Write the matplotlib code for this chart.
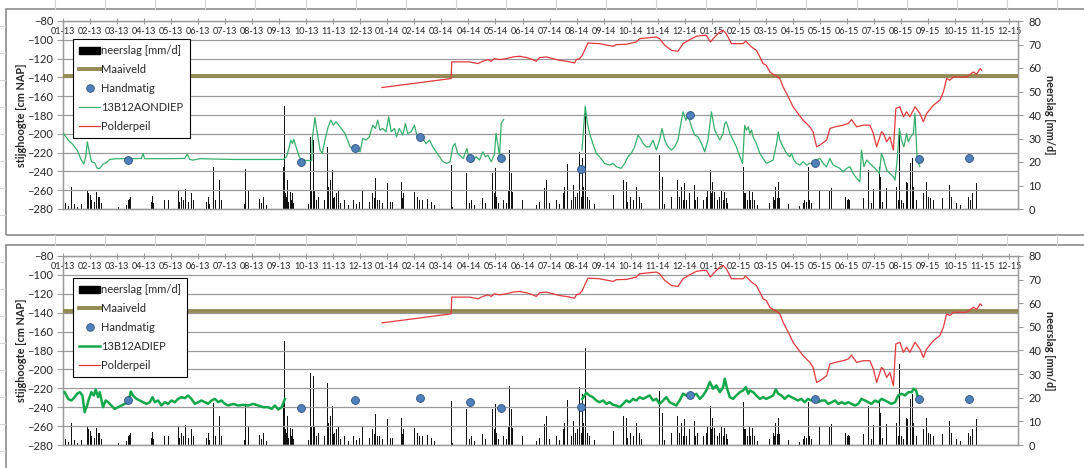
import matplotlib
matplotlib.use("Agg")
import matplotlib.pyplot as plt
from matplotlib.lines import Line2D
from matplotlib.patches import Patch, Rectangle
import numpy as np

plt.rcParams['font.family'] = ['Lato', 'DejaVu Sans']

nan = float('nan')

# x-as: maanden sinds 01-2013
month_labels = ['01-13', '02-13', '03-13', '04-13', '05-13', '06-13', '07-13', '08-13', '09-13', '10-13',
                '11-13', '12-13', '01-14', '02-14', '03-14', '04-14', '05-14', '06-14', '07-14', '08-14',
                '09-14', '10-14', '11-14', '12-14', '01-15', '02-15', '03-15', '04-15', '05-15', '06-15',
                '07-15', '08-15', '09-15', '10-15', '11-15', '12-15']
left_ticks = [-80, -100, -120, -140, -160, -180, -200, -220, -240, -260, -280]
right_ticks = [0, 10, 20, 30, 40, 50, 60, 70, 80]

# neerslag [mm/d]
rain_t = [0.09, 0.19, 0.31, 0.43, 0.52, 0.68, 0.89, 0.93, 0.96, 1.01, 1.06, 1.11, 1.17, 1.23, 1.30, 1.36,
          1.42, 1.48, 1.85, 2.04, 2.22, 2.35, 2.41, 2.47, 2.51, 2.59, 3.27, 3.31, 3.36, 3.77, 3.89, 4.26,
          4.32, 4.38, 4.47, 4.54, 4.63, 4.75, 4.84, 5.31, 5.37, 5.43, 5.58, 5.65, 5.80, 5.86, 6.73, 6.75,
          6.85, 7.28, 7.36, 7.43, 7.53, 8.15, 8.19, 8.22, 8.27, 8.30, 8.35, 8.40, 8.44, 8.49, 8.54, 8.99,
          9.07, 9.17, 9.21, 9.26, 9.30, 9.32, 9.38, 9.44, 9.69, 9.73, 9.78, 9.83, 9.88, 9.91, 9.96, 10.00,
          10.06, 10.12, 10.19, 10.25, 10.43, 10.56, 10.74, 10.86, 10.96, 11.09, 11.21, 11.33, 11.46, 11.52,
          11.56, 11.64, 11.70, 11.83, 12.01, 12.10, 12.20, 12.32, 12.51, 12.57, 12.60, 13.00, 13.06, 13.12,
          13.19, 13.31, 13.43, 13.49, 13.62, 13.74, 14.36, 14.42, 14.91, 15.03, 15.10, 15.22, 15.53, 15.63,
          15.90, 15.95, 15.99, 16.05, 16.12, 16.30, 16.39, 16.48, 16.52, 16.58, 16.64, 17.01, 17.51, 17.63,
          17.81, 17.88, 18.00, 18.25, 18.37, 18.52, 18.56, 18.68, 18.80, 18.90, 18.96, 19.03, 19.09, 19.11,
          19.17, 19.21, 19.26, 19.32, 19.40, 19.48, 19.57, 19.67, 20.37, 20.74, 20.84, 20.90, 20.99, 21.09,
          21.21, 21.31, 21.40, 22.05, 22.17, 22.26, 22.51, 22.75, 22.81, 22.88, 22.94, 23.00, 23.06, 23.19,
          23.35, 23.41, 23.49, 23.68, 23.80, 23.86, 23.95, 23.99, 24.02, 24.11, 24.20, 24.30, 24.36, 24.42,
          24.48, 24.54, 24.60, 25.19, 25.22, 25.26, 25.31, 25.38, 25.44, 25.51, 25.59, 25.68, 26.15, 26.27,
          26.33, 26.37, 26.42, 26.46, 26.52, 26.83, 27.26, 27.38, 27.44, 27.51, 27.57, 27.63, 27.69, 27.98,
          28.37, 28.43, 28.56, 28.95, 29.01, 29.05, 29.11, 29.63, 29.79, 29.91, 29.98, 30.04, 30.20, 30.25,
          30.31, 30.47, 30.78, 30.84, 30.90, 30.94, 31.02, 31.09, 31.15, 31.21, 31.25, 31.36, 31.43, 31.48,
          31.58, 31.83, 31.93, 32.01, 32.10, 32.20, 32.54, 32.81, 32.88, 33.06, 33.19, 33.49, 33.58, 33.64,
          33.74, 33.80]
rain_mm = [2.7, 1.3, 9.5, 2.1, 1.0, 2.1, 8.1, 5.2, 6.7, 5.9, 3.8, 5.2, 3.1, 7.4, 5.2, 5.2,
           2.4, 4.5, 0.7, 0.7, 17.3, 1.7, 3.8, 4.4, 5.0, 3.1, 3.1, 5.5, 2.4, 3.8, 3.8, 7.8,
           3.1, 5.2, 3.8, 8.4, 3.1, 6.9, 3.8, 3.1, 5.2, 2.1, 17.7, 3.8, 12.3, 3.8, 2.1, 16.9,
           7.8, 4.1, 2.4, 5.2, 1.7, 18.0, 44.0, 6.7, 5.2, 12.3, 3.1, 7.4, 3.8, 6.7, 2.4, 8.5,
           2.1, 30.5, 8.1, 29.3, 3.8, 8.1, 3.8, 5.2, 3.8, 12.6, 26.2, 9.5, 12.3, 3.8, 16.6, 4.5,
           5.2, 6.7, 8.1, 2.4, 3.8, 1.7, 3.8, 2.1, 3.1, 8.1, 3.8, 3.1, 6.7, 4.5,
           13.0, 3.8, 3.8, 2.4, 10.9, 3.1, 3.1, 2.1, 11.6, 4.5, 6.7, 7.4, 5.2, 5.2,
           3.8, 3.8, 3.1, 4.1, 3.1, 1.7, 18.7, 1.0, 15.2, 2.4, 3.8, 1.7, 4.5, 2.4,
           15.2, 6.7, 17.3, 5.2, 2.4, 3.8, 2.4, 8.1, 25.1, 15.2, 7.4, 3.8, 1.7, 3.1,
           8.8, 12.3, 2.4, 3.8, 2.1, 6.7, 9.5, 19.0, 3.8, 10.2, 5.2, 6.7, 3.8, 24.4,
           5.2, 21.5, 9.5, 41.0, 5.2, 3.8, 6.7, 2.1, 5.9, 12.3, 11.6, 3.1, 5.2, 3.8,
           9.5, 5.2, 2.4, 22.9, 13.7, 2.1, 5.2, 12.3, 5.2, 9.5, 3.8, 10.9, 3.8, 6.7,
           10.2, 3.8, 5.2, 3.8, 5.2, 8.1, 16.6, 6.7, 11.6, 7.4, 3.8, 5.2, 8.1, 3.8,
           7.4, 4.5, 2.4, 18.0, 6.7, 6.7, 3.8, 8.1, 3.8, 7.4, 3.8, 1.7, 2.4, 5.2,
           3.8, 9.5, 4.5, 11.6, 4.5, 2.1, 1.3, 2.4, 3.8, 3.1, 18.0, 3.8, 2.4, 7.8,
           8.1, 8.8, 11.2, 5.2, 3.8, 4.1, 3.8, 4.5, 16.6, 2.4, 8.4, 6.7, 18.0, 13.7,
           3.1, 8.8, 23.7, 9.5, 3.8, 34.3, 3.8, 2.4, 20.8, 11.6, 10.9, 19.4, 21.5, 9.5,
           3.8, 6.7, 11.6, 5.2, 4.5, 3.8, 4.5, 10.2, 5.2, 2.4, 1.7, 5.2, 3.8, 6.9,
           6.7, 10.9]

# Maaiveld [cm NAP]
maaiveld_cm = -138

# Polderpeil [cm NAP]
polder_t = [11.80, 14.36, 14.38, 14.67, 15.04, 15.35, 15.53, 15.72, 15.84, 15.96, 16.15, 16.40, 16.64,
            16.89, 17.14, 17.38, 17.51, 17.63, 17.88, 18.12, 18.37, 18.62, 18.93, 18.99, 19.11, 19.21,
            19.42, 19.85, 20.35, 20.47, 20.84, 21.21, 21.33, 21.70, 21.95, 22.07, 22.26, 22.51, 22.75,
            22.94, 23.19, 23.43, 23.68, 23.80, 23.95, 24.11, 24.30, 24.42, 24.54, 24.73, 25.16, 25.26,
            25.35, 25.47, 25.65, 25.78, 25.90, 26.02, 26.15, 26.27, 26.40, 26.52, 26.64, 26.77, 26.89,
            27.01, 27.19, 27.38, 27.63, 27.75, 27.88, 28.00, 28.25, 28.37, 28.56, 28.86, 29.05, 29.17,
            29.36, 29.60, 29.85, 29.98, 30.10, 30.28, 30.35, 30.47, 30.59, 30.72, 30.81, 30.96, 31.09,
            31.21, 31.33, 31.52, 31.70, 31.83, 31.95, 32.20, 32.44, 32.57, 32.69, 32.81, 32.94, 33.19,
            33.43, 33.68, 33.80, 33.93, 33.99]
polder_cm = [-150.8, -141.2, -123.5, -123.5, -123.5, -125.3, -122.8, -121.1, -122.8, -120.0, -121.1, -120.0,
             -118.2, -117.5, -118.9, -121.1, -122.8, -118.9, -118.2, -120.0, -121.8, -122.8, -124.6, -121.1,
             -120.0, -116.5, -103.4, -104.1, -106.9, -105.1, -104.8, -102.3, -98.8, -97.7, -97.0, -98.8,
             -105.8, -111.2, -112.2, -104.1, -99.8, -96.3, -95.2, -95.2, -102.3, -97.0, -91.7, -89.9,
             -93.5, -104.1, -104.1, -101.2, -104.1, -107.6, -111.2, -118.2, -125.3, -127.1, -134.2, -136.6,
             -138.8, -141.2, -150.1, -157.2, -164.2, -171.3, -178.4, -185.5, -192.6, -197.9, -213.8, -212.0,
             -206.7, -194.3, -192.6, -190.8, -189.0, -184.8, -192.6, -190.8, -190.8, -199.6, -213.8, -197.9,
             -199.6, -208.5, -203.2, -217.3, -173.1, -171.3, -181.9, -176.6, -181.9, -171.3, -178.4, -187.3,
             -178.4, -169.6, -164.2, -155.4, -141.2, -143.0, -139.5, -139.5, -139.5, -134.2, -136.6, -130.6,
             -132.4]

# 13B12AONDIEP [cm NAP]
ondiep_t = [0.02, 0.19, 0.35, 0.52, 0.68, 0.77, 0.84, 0.90, 0.96, 1.05, 1.17, 1.27, 1.36, 1.48, 1.60,
            1.73, 1.98, 2.59, 2.90, 2.96, 3.02, 3.83, 4.50, 4.60, 4.69, 4.81, 5.06, 6.30, 7.53, 8.15,
            8.27, 8.37, 8.43, 8.49, 8.54, 8.64, 8.74, 8.83, 9.20, 9.23, 9.32, 9.41, 9.51, 9.59, 9.69,
            9.81, 9.91, 10.00, 10.10, 10.25, 10.43, 10.62, 10.80, 10.99, 11.09, 11.21, 11.33, 11.46,
            11.56, 11.64, 11.73, 11.83, 11.95, 12.05, 12.14, 12.26, 12.34, 12.44, 12.57, 12.67, 12.75,
            12.88, 13.00, 13.09, 13.19, 13.31, 13.43, 13.56, 13.68, 13.80, 13.93, 14.05, 14.20, 14.32,
            14.42, 14.50, 14.60, 14.73, 14.81, 14.94, 15.04, 15.16, 15.28, 15.41, 15.53, 15.63, 15.72,
            15.84, 15.96, 16.02, 16.10, 16.15, 16.21, 16.30, nan,
            19.20, 19.32, 19.40, 19.48, 19.60, 19.73, 19.85, 20.04, 20.22, 20.35, 20.47, 20.65, 20.78,
            20.90, 21.02, 21.15, 21.27, 21.36, 21.46, 21.58, 21.70, 21.83, 21.95, 22.07, 22.16, 22.26,
            22.38, 22.51, 22.63, 22.75, 22.88, 22.94, 23.04, 23.12, 23.25, 23.37, 23.49, 23.62, 23.74,
            23.86, 23.99, 24.11, 24.30, 24.42, 24.48, 24.54, 24.60, 24.67, 24.79, 24.91, 25.04, 25.14,
            25.22, 25.28, 25.35, 25.41, 25.47, 25.53, 25.65, 25.78, 25.90, 26.02, 26.15, 26.27, 26.40,
            26.46, 26.52, 26.64, 26.77, 26.89, 26.95, 27.04, 27.14, 27.26, 27.38, 27.51, 27.63, 27.75,
            27.88, 28.00, 28.12, 28.25, 28.37, 28.49, 28.62, 28.74, 28.86, 28.99, 29.11, 29.23, 29.36,
            29.48, 29.54, 29.63, 29.73, 29.85, 29.98, 30.10, 30.20, 30.28, 30.37, 30.47, 30.59, 30.72,
            30.78, 30.86, 30.94, 31.02, 31.11, 31.21, 31.27, 31.36, 31.46, 31.52, 31.60, 31.70]
ondiep_cm = [-199.6, -206.7, -211.0, -217.3, -228.0, -232.2, -224.4, -208.5, -217.3, -229.7, -230.8, -236.8,
             -236.8, -232.2, -230.8, -227.3, -226.5, -226.5, -226.2, -220.9, -226.5, -226.5, -226.2, -221.6,
             -227.3, -228.0, -226.5, -227.3, -227.3, -227.3, -224.4, -213.8, -206.7, -210.3, -206.0, -215.6,
             -224.4, -228.0, -228.7, -203.2, -182.7, -199.6, -217.3, -220.9, -206.7, -192.6, -185.5, -190.8,
             -187.3, -192.6, -199.6, -213.8, -216.6, -219.1, -205.0, -206.7, -203.2, -190.8, -194.3, -185.5,
             -196.1, -194.3, -197.9, -182.0, -197.9, -194.3, -203.2, -194.3, -201.4, -189.0, -199.6, -197.9,
             -190.8, -201.4, -203.2, -205.0, -210.3, -206.7, -213.8, -219.1, -224.4, -229.7, -231.5, -229.7,
             -213.8, -210.3, -220.9, -224.4, -226.2, -215.6, -228.0, -229.7, -224.4, -228.0, -219.1, -224.4,
             -222.7, -229.7, -222.0, -199.6, -213.8, -224.4, -189.0, -184.8, nan,
             -217.3, -170.6, -189.0, -199.6, -210.3, -220.9, -224.4, -231.5, -233.3, -231.5, -235.0, -236.8,
             -231.5, -224.4, -220.9, -213.8, -201.4, -205.0, -210.3, -213.8, -213.8, -206.7, -217.3, -206.7,
             -194.3, -206.7, -213.8, -217.3, -213.8, -206.7, -185.5, -176.6, -185.5, -180.2, -192.6, -201.4,
             -203.2, -210.3, -219.1, -206.7, -176.6, -196.1, -206.7, -199.6, -189.0, -187.3, -192.6, -199.6,
             -206.7, -213.8, -224.4, -231.5, -190.8, -196.1, -192.6, -199.6, -196.1, -203.2, -210.3, -220.9,
             -226.2, -231.5, -229.7, -228.0, -210.3, -197.9, -206.7, -213.8, -220.9, -224.4, -220.9, -228.0,
             -231.5, -233.3, -229.7, -233.3, -231.5, -230.8, -228.0, -226.2, -231.5, -235.0, -226.2, -233.3,
             -235.0, -236.8, -240.4, -236.8, -235.0, -242.1, -247.4, -251.0, -217.3, -235.0, -228.0, -231.5,
             -235.0, -238.6, -242.1, -220.9, -228.0, -238.6, -242.1, -245.7, -249.2, -228.0, -194.3, -206.7,
             -213.8, -199.6, -208.5, -203.2, -199.6, -178.4, -228.0, -235.0]

# 13B12ADIEP [cm NAP]
diep_t = [0.06, 0.19, 0.31, 0.43, 0.52, 0.62, 0.72, 0.80, 0.89, 0.96, 1.05, 1.14, 1.21, 1.30, 1.36, 1.48,
          1.58, 1.67, 1.79, 1.91, 2.04, 2.16, 2.28, 2.41, 2.51, 2.59, 2.72, 2.84, 2.96, 3.09, 3.21, 3.31,
          3.40, 3.52, 3.64, 3.77, 3.89, 4.01, 4.14, 4.26, 4.38, 4.51, 4.63, 4.75, 4.88, 5.00, 5.12, 5.25,
          5.37, 5.49, 5.62, 5.74, 5.86, 5.99, 6.11, 6.30, 6.48, 6.67, 6.85, 7.04, 7.22, 7.41, 7.59, 7.72,
          7.84, 7.96, 8.09, 8.21, nan,
          19.21, 19.36, 19.48, 19.60, 19.73, 19.85, 19.98, 20.10, 20.22, 20.35, 20.47, 20.59, 20.72, 20.84,
          20.96, 21.09, 21.21, 21.33, 21.46, 21.58, 21.70, 21.83, 21.95, 22.07, 22.20, 22.32, 22.44, 22.57,
          22.69, 22.81, 22.94, 23.06, 23.19, 23.31, 23.43, 23.56, 23.68, 23.80, 23.93, 24.05, 24.17, 24.30,
          24.42, 24.48, 24.57, 24.67, 24.79, 24.91, 25.04, 25.16, 25.26, 25.35, 25.41, 25.53, 25.65, 25.78,
          25.90, 26.02, 26.15, 26.27, 26.37, 26.46, 26.58, 26.70, 26.83, 26.95, 27.07, 27.19, 27.31, 27.44,
          27.56, 27.68, 27.81, 27.93, 28.06, 28.19, 28.31, 28.44, 28.56, 28.68, 28.81, 28.93, 29.05, 29.17,
          29.30, 29.42, 29.54, 29.67, 29.79, 29.91, 30.04, 30.16, 30.28, 30.41, 30.53, 30.65, 30.78, 30.90,
          31.02, 31.15, 31.27, 31.40, 31.46, 31.56, 31.61]
diep_cm = [-224.1, -231.2, -232.9, -229.4, -225.8, -224.1, -227.6, -245.3, -238.2, -231.2, -224.1, -227.6,
           -221.2, -229.4, -224.1, -240.0, -232.9, -234.7, -238.2, -241.8, -240.0, -238.2, -236.5, -234.7,
           -223.4, -227.6, -231.2, -232.9, -234.7, -236.5, -234.7, -229.4, -234.7, -232.9, -238.2, -234.7,
           -236.5, -232.9, -234.7, -231.2, -229.4, -230.4, -227.6, -231.2, -236.5, -234.7, -232.9, -234.7,
           -236.5, -232.9, -231.2, -234.7, -232.9, -236.5, -238.2, -236.5, -238.2, -237.5, -238.2, -236.5,
           -238.2, -240.0, -240.0, -241.8, -238.2, -242.5, -240.0, -231.2, nan,
           -231.2, -224.8, -227.6, -229.4, -232.9, -234.7, -232.9, -236.5, -234.7, -237.5, -238.2, -240.0,
           -236.5, -232.9, -234.7, -231.2, -232.9, -229.4, -231.2, -229.4, -227.6, -232.9, -231.2, -236.5,
           -232.9, -229.4, -234.7, -236.5, -238.2, -232.9, -225.8, -227.6, -225.8, -227.6, -225.8, -231.2,
           -227.6, -222.3, -213.4, -220.5, -217.0, -224.1, -218.8, -209.9, -220.5, -229.4, -231.2, -227.6,
           -224.1, -222.3, -218.8, -225.8, -222.3, -224.1, -227.6, -231.2, -229.4, -231.2, -229.4, -227.6,
           -221.2, -225.8, -227.6, -231.2, -227.6, -229.4, -231.2, -232.9, -231.2, -234.7, -231.2, -232.9,
           -231.2, -234.7, -232.9, -232.9, -236.5, -234.7, -232.9, -236.5, -234.7, -236.5, -234.7, -236.5,
           -238.2, -236.5, -231.2, -232.9, -234.7, -236.5, -232.9, -234.7, -231.2, -232.9, -234.7, -236.5,
           -234.7, -227.6, -225.8, -227.6, -224.1, -224.1, -220.5, -222.3, -227.6]

# Handmatig [cm NAP]
hand_t = [2.41, 8.79, 10.80, 13.19, 15.07, 16.21, 19.16, 23.19, 27.81, 31.65, 33.53]
hand_ondiep_cm = [-228.3, -230.4, -215.6, -203.2, -225.5, -225.5, -237.5, -180.5, -230.8, -227.3, -225.5]
hand_diep_cm = [-232.2, -240.7, -232.2, -230.4, -234.0, -240.7, -239.3, -227.6, -231.2, -231.5, -230.8]

W, H = 1084, 468
fig = plt.figure(figsize=(W / 100, H / 100), dpi=100, facecolor='white')

# spreadsheet-achtergrond (celranden) en kaderranden
cell_col = '#d4d4d4'
for cx in np.arange(55, W, 50.1):
    fig.add_artist(Line2D([cx / W, cx / W], [1, 1 - 9 / H], color=cell_col, lw=0.8))
    fig.add_artist(Line2D([cx / W, cx / W], [1 - 235 / H, 1 - 245 / H], color=cell_col, lw=0.8))
for ry in [26, 53, 80, 107, 134, 161, 188, 215, 262, 289, 316, 343, 370, 397, 424, 451]:
    fig.add_artist(Line2D([0, 5 / W], [1 - ry / H, 1 - ry / H], color=cell_col, lw=0.8))
fig.add_artist(Rectangle((6 / W, 1 - 235 / H), 1.1, 226 / H, fill=False, ec='#8c8c8c', lw=1.2))
fig.add_artist(Rectangle((6 / W, -0.1), 1.1, 0.1 + (H - 245) / H, fill=False, ec='#8c8c8c', lw=1.2))

txt_col = '#262626'
grid_col = '#9a9a9a'


def draw_panel(rect, g_t, g_cm, g_color, g_lw, g_label, h_cm, leg_anchor):
    ax = fig.add_axes(rect)
    ax2 = ax.twinx()
    ax.set_zorder(2)
    ax.patch.set_visible(False)
    ax2.set_zorder(1)

    ax2.bar(rain_t, rain_mm, width=0.035, color='#111111', linewidth=0)
    ax2.set_ylim(0, 80)
    ax2.set_yticks(right_ticks)
    ax2.tick_params(axis='y', labelsize=8, colors=txt_col, length=3.5, width=0.8,
                    color=grid_col, pad=4)
    ax2.set_ylabel('neerslag [mm/d]', rotation=270, fontsize=7.8, fontweight='bold',
                   color=txt_col, va='center')
    ax2.yaxis.set_label_coords((1049 - 63) / 955, 0.5)

    ax.axhline(maaiveld_cm, color='#948a54', lw=2.8, zorder=3)
    ax.plot(polder_t, polder_cm, color='#e5383b', lw=0.9, zorder=4)
    ax.plot(g_t, g_cm, color=g_color, lw=g_lw, zorder=5)
    ax.scatter(hand_t, h_cm, s=32, color='#4f81bd', edgecolors='#2f4f7a',
               linewidths=0.6, zorder=6)

    ax.set_xlim(0, 35.33)
    ax.set_ylim(-280, -80)
    ax.set_yticks(left_ticks)
    ax.grid(axis='y', color=grid_col, lw=0.9)
    ax.set_xticks(range(len(month_labels)))
    ax.set_xticklabels(month_labels)
    ax.tick_params(axis='x', top=True, bottom=False, labeltop=True, labelbottom=False,
                   direction='inout', length=5, width=0.8, color=grid_col,
                   labelsize=6.5, labelcolor=txt_col, pad=-13.5)
    ax.tick_params(axis='y', labelsize=8, colors=txt_col, length=4, width=0.8,
                   color=grid_col, pad=3)
    ax.set_ylabel('stijghoogte [cm NAP]', fontsize=7.8, fontweight='bold', color=txt_col)
    ax.yaxis.set_label_coords(-(63 - 27) / 955, 0.5)
    for a in (ax, ax2):
        for s in a.spines.values():
            s.set_color(grid_col)
            s.set_linewidth(0.9)

    handles = [Patch(facecolor='black', edgecolor='black'),
               Line2D([], [], color='#948a54', lw=2.8),
               Line2D([], [], ls='none', marker='o', ms=5.5, mfc='#4f81bd', mec='#2f4f7a', mew=0.6),
               Line2D([], [], color=g_color, lw=g_lw),
               Line2D([], [], color='#e5383b', lw=0.9)]
    labels = ['neerslag [mm/d]', 'Maaiveld', 'Handmatig', g_label, 'Polderpeil']
    leg = ax.legend(handles, labels, loc='upper left', bbox_to_anchor=leg_anchor,
                    borderaxespad=0, fontsize=8, frameon=True, fancybox=False,
                    edgecolor='black', framealpha=1, labelspacing=0.72,
                    handlelength=1.9, handleheight=0.6, handletextpad=0.1, borderpad=0.55,
                    labelcolor=txt_col)
    leg.get_frame().set_linewidth(0.8)
    leg.set_zorder(10)
    return ax


draw_panel([63 / W, 1 - 209 / H, 955 / W, 188 / H], ondiep_t, ondiep_cm, '#35b06a', 0.9,
           '13B12AONDIEP', hand_ondiep_cm, (0.0105, 0.904))
draw_panel([63 / W, 1 - 445 / H, 955 / W, 189 / H], diep_t, diep_cm, '#12a84a', 1.8,
           '13B12ADIEP', hand_diep_cm, (0.0105, 0.884))

fig.savefig('out.png', dpi=100, facecolor='white')
